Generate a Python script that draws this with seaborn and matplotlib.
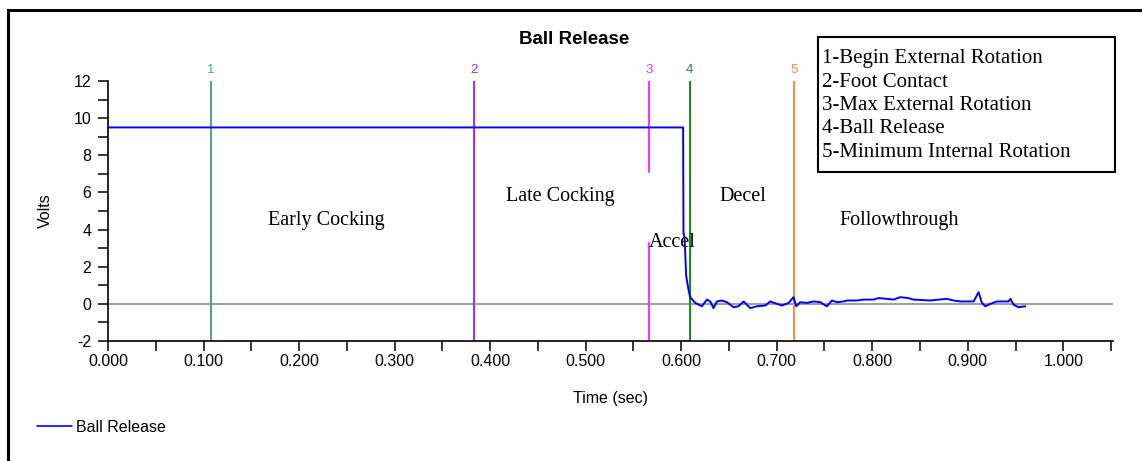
import numpy as np
import pandas as pd
import matplotlib
matplotlib.use("Agg")
import matplotlib.pyplot as plt
from matplotlib.patches import Rectangle
from matplotlib.ticker import MultipleLocator, FormatStrFormatter
import seaborn as sns

# ---- data ----
time = [0.000, 0.100, 0.200, 0.300, 0.400, 0.500, 0.6020,
        0.6024, 0.6035, 0.6052, 0.6077, 0.6094, 0.6147, 0.6217, 0.6269, 0.6304,
        0.6338, 0.6374, 0.6426, 0.6478, 0.6548, 0.6600, 0.6653, 0.6688, 0.6723,
        0.6793, 0.6880, 0.6932, 0.6990, 0.7054, 0.7124, 0.7176, 0.7204, 0.7246,
        0.7316, 0.7386, 0.7455, 0.7525, 0.7578, 0.7630, 0.7700, 0.7735, 0.7840,
        0.7909, 0.8014, 0.8066, 0.8154, 0.8223, 0.8293, 0.8380, 0.8433, 0.8607,
        0.8695, 0.8782, 0.8852, 0.8921, 0.9061, 0.9113, 0.9148, 0.9183, 0.9236,
        0.9305, 0.9427, 0.9445, 0.9480, 0.9532, 0.9602]
volts = [9.5, 9.5, 9.5, 9.5, 9.5, 9.5, 9.5,
         3.8, 3.6, 1.5, 0.75, 0.36, 0.05, -0.13, 0.23, 0.13,
         -0.23, 0.13, 0.18, 0.09, -0.18, -0.13, 0.13, -0.05, -0.23,
         -0.13, -0.09, 0.13, np.nan, -0.09, 0.05, 0.36, -0.13, 0.09,
         0.05, 0.13, 0.09, -0.13, 0.18, 0.09, 0.13, 0.18, 0.18,
         0.23, 0.23, 0.31, 0.27, 0.23, 0.36, 0.31, 0.23, 0.18,
         0.23, 0.27, 0.18, 0.13, 0.13, 0.63, 0.05, -0.13, 0.0,
         0.13, 0.13, 0.27, -0.05, -0.18, -0.13]

event_ids = ["1", "2", "3", "4", "5"]
event_times = [0.108, 0.3836, 0.5668, 0.6087, 0.7183]
event_colors = ["#5f9ea0", "#9933ff", "#ff33ff", "#228b22", "#ff8c4c"]
event_names = ["1-Begin External Rotation", "2-Foot Contact",
               "3-Max External Rotation", "4-Ball Release",
               "5-Minimum Internal Rotation"]

phase_names = ["Early Cocking", "Late Cocking", "Accel", "Decel", "Followthrough"]
phase_x = [0.228, 0.473, 0.591, 0.665, 0.828]
phase_y = [4.47, 5.76, 3.3, 5.76, 4.47]

df = pd.DataFrame({"Time (sec)": time, "Volts": volts})

# ---- style ----
sns.set_style("ticks")
plt.rcParams["font.family"] = ["Liberation Sans", "DejaVu Sans"]
plt.rcParams["axes.unicode_minus"] = False
for k in ["text.color", "axes.labelcolor", "xtick.color", "ytick.color",
          "xtick.labelcolor", "ytick.labelcolor", "axes.edgecolor"]:
    plt.rcParams[k] = "black"

SERIF = ["Liberation Serif", "DejaVu Serif"]

fig = plt.figure(figsize=(11.42, 4.61), dpi=100)
ax = fig.add_axes([108/1142, 1-341/461, (1113-108)/1142, (341-81)/461])

ax.axhline(0, color="#a0a0a0", lw=1.5, zorder=1)

for eid, t, c in zip(event_ids, event_times, event_colors):
    if eid == "3":
        ax.plot([t, t], [12, 7.1], color=c, lw=1.5, zorder=2)
        ax.plot([t, t], [3.3, -2], color=c, lw=1.5, zorder=2)
    else:
        ax.plot([t, t], [12, -2], color=c, lw=1.5, zorder=2)
    ax.text(t, 12.25, eid, color=c, ha="center", va="bottom", fontsize=9.5, clip_on=False)

sns.lineplot(data=df, x="Time (sec)", y="Volts", ax=ax, color="#0000ff",
             lw=1.4, zorder=3, estimator=None, sort=False)

for name, x, y in zip(phase_names, phase_x, phase_y):
    ax.text(x, y, name, ha="center", va="center", fontsize=14.5,
            family=SERIF, color="black", zorder=4)

ax.set_xlim(0, 1.052)
ax.set_ylim(-2, 12)
ax.xaxis.set_major_locator(MultipleLocator(0.1))
ax.xaxis.set_minor_locator(MultipleLocator(0.05))
ax.yaxis.set_major_locator(MultipleLocator(2))
ax.yaxis.set_minor_locator(MultipleLocator(1))
ax.xaxis.set_major_formatter(FormatStrFormatter("%.3f"))
ax.tick_params(which="both", direction="out", length=7, width=1.1, color="black",
               labelcolor="black", labelsize=11.5)
ax.tick_params(axis="y", pad=5)
ax.tick_params(axis="x", pad=2)
for s in ["top", "right"]:
    ax.spines[s].set_visible(False)
for s in ["left", "bottom"]:
    ax.spines[s].set_color("black")
    ax.spines[s].set_linewidth(1.2)
ax.set_xlabel("Time (sec)", fontsize=11.5, labelpad=16, color="black")
ax.set_ylabel("Volts", fontsize=11.5, labelpad=15, color="black")
fig.text(574/1142, 1-39/461, "Ball Release", ha="center", va="center",
         fontsize=13.5, fontweight="bold", color="black")

# legend for series
leg = ax.legend([plt.Line2D([], [], color="#0000ff", lw=1.2)], ["Ball Release"],
                loc="center left", bbox_to_anchor=(37/1142, 1-427/461),
                bbox_transform=fig.transFigure, frameon=False, fontsize=11.5,
                handlelength=2.2, handletextpad=0.25, borderpad=0, borderaxespad=0)
for txt in leg.get_texts():
    txt.set_color("black")

# event key box
fig.add_artist(Rectangle((818/1142, 1-172/461), 297/1142, 135/461,
                         transform=fig.transFigure, fill=False, ec="black", lw=1.5))
for i, name in enumerate(event_names):
    fig.text(822/1142, 1-(59+23.3*i)/461, name, ha="left", va="center",
             fontsize=15, family=SERIF, color="black")

# outer frame (top & left visible)
fig.add_artist(Rectangle((8/1142, -0.2), 1.5, 1.2 - 10/461,
                         transform=fig.transFigure, fill=False, ec="black", lw=2.2))

fig.savefig("out.png", dpi=100)
